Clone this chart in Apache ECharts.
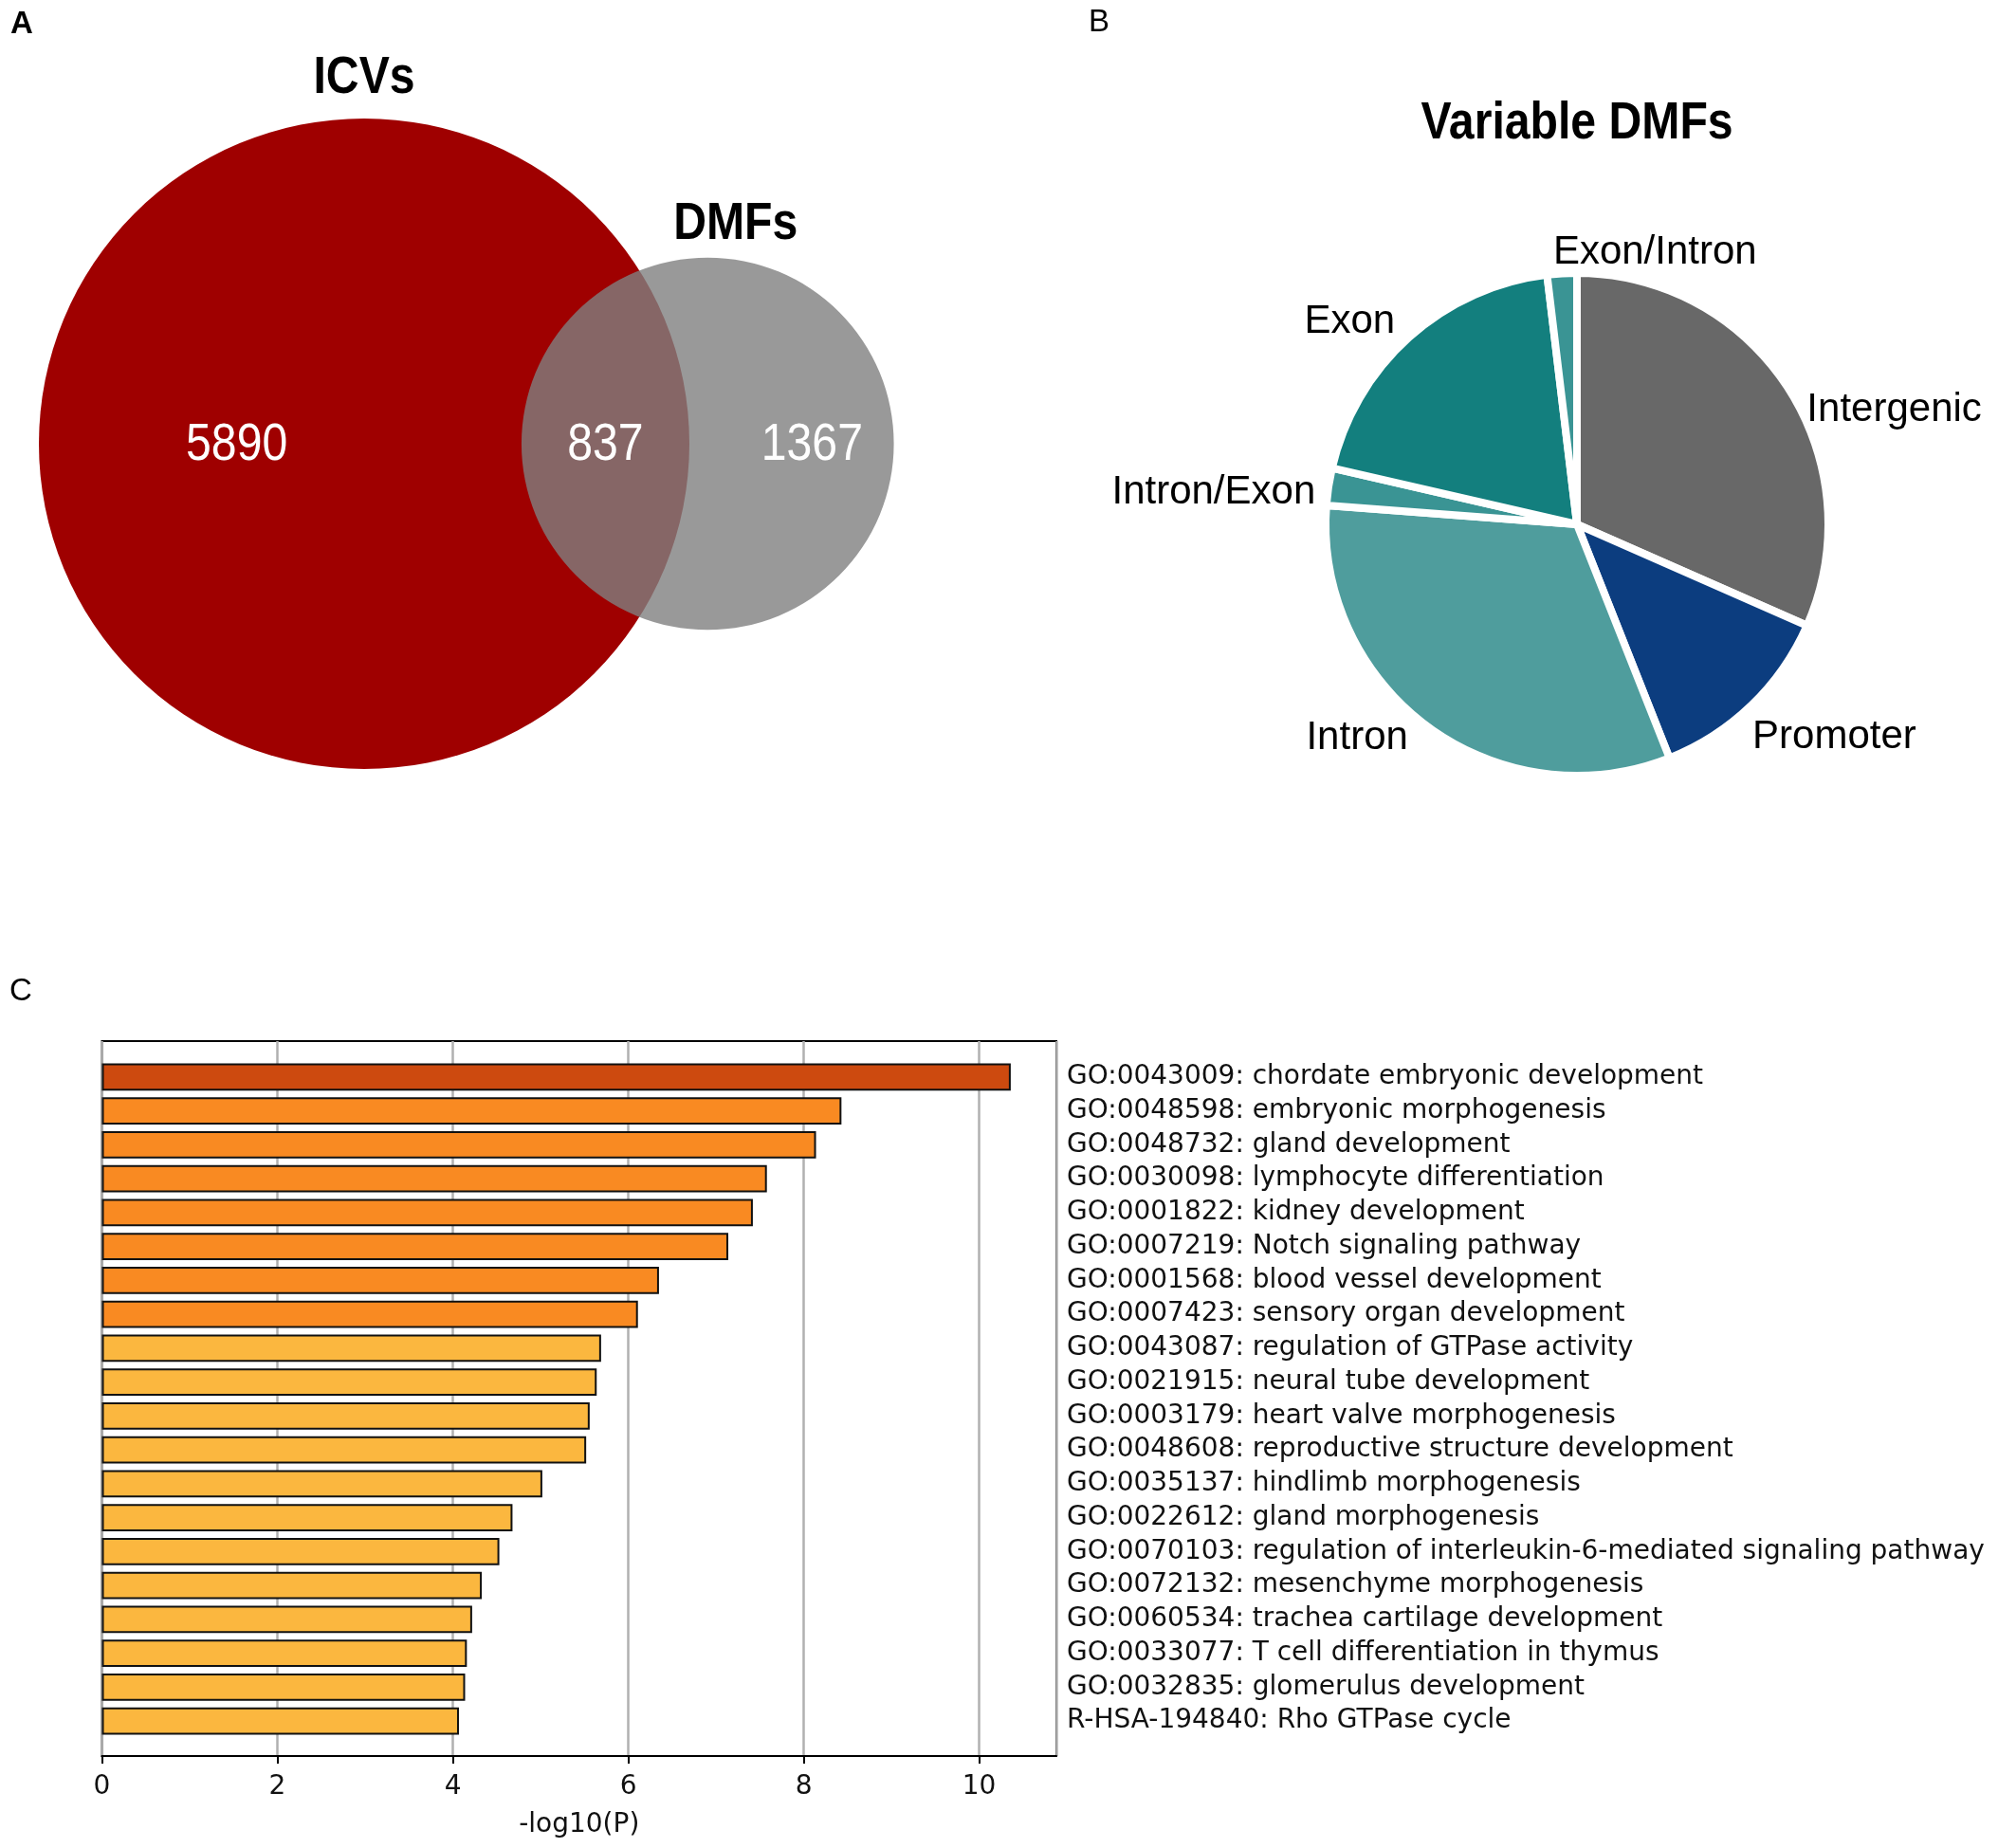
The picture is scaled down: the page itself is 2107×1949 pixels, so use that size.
<!DOCTYPE html>
<html><head><meta charset="utf-8">
<script src="https://cdn.jsdelivr.net/npm/echarts@6/dist/echarts.min.js"></script>
<style>html,body{margin:0;padding:0;background:#fff}#c{width:2107px;height:1949px}</style>
</head><body><div id="c"></div>
<script>
// ---------- Panel A: Venn ----------
const vennSets = ['ICVs', 'DMFs'];
const vennCounts = [5890, 837, 1367]; // ICVs only, shared, DMFs only

// ---------- Panel B: pie ----------
const pieCategories = ['Intergenic', 'Promoter', 'Intron', 'Intron/Exon', 'Exon', 'Exon/Intron'];
const pieValues = [31.6, 12.4, 32.2, 2.4, 19.5, 1.9];

// ---------- Panel C: enrichment bars ----------
const goTerms = [
  'GO:0043009: chordate embryonic development',
  'GO:0048598: embryonic morphogenesis',
  'GO:0048732: gland development',
  'GO:0030098: lymphocyte differentiation',
  'GO:0001822: kidney development',
  'GO:0007219: Notch signaling pathway',
  'GO:0001568: blood vessel development',
  'GO:0007423: sensory organ development',
  'GO:0043087: regulation of GTPase activity',
  'GO:0021915: neural tube development',
  'GO:0003179: heart valve morphogenesis',
  'GO:0048608: reproductive structure development',
  'GO:0035137: hindlimb morphogenesis',
  'GO:0022612: gland morphogenesis',
  'GO:0070103: regulation of interleukin-6-mediated signaling pathway',
  'GO:0072132: mesenchyme morphogenesis',
  'GO:0060534: trachea cartilage development',
  'GO:0033077: T cell differentiation in thymus',
  'GO:0032835: glomerulus development',
  'R-HSA-194840: Rho GTPase cycle'
];
const goValues = [10.36, 8.43, 8.14, 7.58, 7.42, 7.14, 6.35, 6.11, 5.69, 5.64,
                  5.56, 5.52, 5.02, 4.68, 4.53, 4.33, 4.22, 4.16, 4.14, 4.07];
const xTicks = [0, 2, 4, 6, 8, 10];

// ---------- Venn geometry (area proportional) ----------
const areaA = vennCounts[0] + vennCounts[1];
const areaB = vennCounts[1] + vennCounts[2];
const rA = Math.sqrt(areaA / Math.PI), rB = Math.sqrt(areaB / Math.PI);
function lensArea(d, r1, r2) {
  if (d >= r1 + r2) return 0;
  if (d <= Math.abs(r1 - r2)) return Math.PI * Math.min(r1, r2) ** 2;
  const a = r1 * r1 * Math.acos((d * d + r1 * r1 - r2 * r2) / (2 * d * r1));
  const b = r2 * r2 * Math.acos((d * d + r2 * r2 - r1 * r1) / (2 * d * r2));
  const c = 0.5 * Math.sqrt((-d + r1 + r2) * (d + r1 - r2) * (d - r1 + r2) * (d + r1 + r2));
  return a + b - c;
}
let lo = Math.abs(rA - rB), hi = rA + rB;
for (let i = 0; i < 100; i++) {
  const m = (lo + hi) / 2;
  if (lensArea(m, rA, rB) > vennCounts[1]) lo = m; else hi = m;
}
const dAB = (lo + hi) / 2;
const circleData = [[0, 0, rA], [dAB, 0, rB]];
const aLeft = -rA, aRight = rA, bLeft = dAB - rB, bRight = dAB + rB;
const countLabelData = [
  [aLeft + 0.41 * (bLeft - aLeft), 0],
  [(bLeft + aRight) / 2, 0],
  [aRight + 0.6 * (bRight - aRight), 0]
];

// Venn frame: pixels per data unit, placement
const pxPerUnit = 343 / rA;
const vennGrid = {left: 0, top: 0, width: 1060, height: 900};
const vennCx = 384, vennCy = 468;

const SANS = "'Liberation Sans', Arial, sans-serif";
const DEJAVU = "'DejaVu Sans', sans-serif";
const NARROW_SCALE = 0.86;

const vennColors = ['#9f0000', 'rgba(128,128,128,0.8)'];
const pieColors = ['#686868', '#0c3d7f', '#4f9d9d', '#3a9494', '#137f7e', '#3a9494'];

function barColor(v) {
  if (v >= 10) return '#cd4a0f';
  if (v >= 6) return '#f98a22';
  return '#fbb73f';
}

const chart = echarts.init(document.getElementById('c'), null, {renderer: 'canvas'});
chart.setOption({
  animation: false,
  backgroundColor: '#fff',
  graphic: [
    {type: 'text', left: 11, top: 9, style: {text: 'A', fontSize: 33, fontFamily: SANS, fontWeight: 'bold', fill: '#000'}},
    {type: 'text', left: 1148, top: 7, style: {text: 'B', fontSize: 33, fontFamily: SANS, fill: '#000'}},
    {type: 'text', left: 10, top: 1029, style: {text: 'C', fontSize: 33, fontFamily: SANS, fill: '#000'}},
    {type: 'text', x: 1663, y: 131, scaleX: NARROW_SCALE, style: {text: 'Variable DMFs', fontSize: 56, fontFamily: SANS, fontWeight: 'bold', fill: '#000', align: 'center', verticalAlign: 'middle'}}
  ],
  grid: [
    {left: 107.5, width: 1006.5, top: 1098, height: 754, show: true, borderColor: '#000', borderWidth: 2, backgroundColor: 'transparent', containLabel: false},
    {left: 107.5, width: 1006.5, top: 1118, height: 715, containLabel: false},
    {left: vennGrid.left, top: vennGrid.top, width: vennGrid.width, height: vennGrid.height, containLabel: false}
  ],
  xAxis: [
    {
      gridIndex: 0, type: 'value', min: xTicks[0], max: 10.88, interval: 2,
      name: '-log10(P)', nameLocation: 'middle', nameGap: 59,
      nameTextStyle: {fontSize: 28, fontFamily: DEJAVU, color: '#111'},
      axisLine: {show: true, lineStyle: {color: '#000', width: 2}},
      axisTick: {show: true, inside: false, length: 8, lineStyle: {color: '#000', width: 2}},
      axisLabel: {
        fontSize: 28, fontFamily: DEJAVU, color: '#111', margin: 19,
        showMaxLabel: false,
        formatter: v => (xTicks.indexOf(v) >= 0 ? String(v) : '')
      },
      splitLine: {show: true, lineStyle: {color: '#b0b0b0', width: 2.5}}
    },
    {gridIndex: 1, type: 'value', min: xTicks[0], max: 10.88, show: false},
    {
      gridIndex: 2, type: 'value', show: false,
      min: (vennGrid.left - vennCx) / pxPerUnit,
      max: (vennGrid.left + vennGrid.width - vennCx) / pxPerUnit
    }
  ],
  yAxis: [
    {gridIndex: 0, type: 'value', show: false, min: 0, max: 1},
    {
      gridIndex: 1, type: 'category', inverse: true, data: goTerms, position: 'right',
      axisLine: {show: false}, axisTick: {show: false}, splitLine: {show: false},
      axisLabel: {interval: 0, margin: 11, fontSize: 28, fontFamily: DEJAVU, color: '#111'}
    },
    {
      gridIndex: 2, type: 'value', show: false,
      min: -(vennGrid.top + vennGrid.height - vennCy) / pxPerUnit,
      max: (vennCy - vennGrid.top) / pxPerUnit
    }
  ],
  series: [
    {
      type: 'bar', xAxisIndex: 1, yAxisIndex: 1, data: goValues, barWidth: '80%',
      itemStyle: {color: p => barColor(p.value), borderColor: '#111', borderWidth: 2},
      z: 5
    },
    {
      type: 'custom', xAxisIndex: 2, yAxisIndex: 2, data: circleData,
      renderItem: (params, api) => {
        const c = api.coord([api.value(0), api.value(1)]);
        const r = api.size([api.value(2), api.value(2)])[0];
        const i = params.dataIndex;
        return {
          type: 'group', children: [
            {type: 'circle', shape: {cx: c[0], cy: c[1], r: r}, style: {fill: vennColors[i]}},
            {type: 'text', x: c[0] + (i === 0 ? 0 : 0.15 * r), y: c[1] - r - (i === 0 ? 42 : 35), scaleX: NARROW_SCALE,
             style: {text: vennSets[i], fontSize: 56, fontFamily: SANS, fontWeight: 'bold', fill: '#000', align: 'center', verticalAlign: 'middle'}}
          ]
        };
      }
    },
    {
      type: 'custom', xAxisIndex: 2, yAxisIndex: 2, data: countLabelData, z: 10,
      renderItem: (params, api) => {
        const c = api.coord([api.value(0), api.value(1)]);
        return {type: 'text', x: c[0], y: c[1] + 2, scaleX: NARROW_SCALE,
          style: {text: String(vennCounts[params.dataIndex]), fontSize: 56, fontFamily: SANS, fill: '#fff', align: 'center', verticalAlign: 'middle'}};
      }
    },
    {
      type: 'pie', center: [1663, 553], radius: 265, startAngle: 90, clockwise: true,
      avoidLabelOverlap: false,
      data: pieCategories.map((n, i) => ({name: n, value: pieValues[i], itemStyle: {color: pieColors[i]}})),
      itemStyle: {borderColor: '#fff', borderWidth: 8},
      label: {show: true, position: 'outside', fontSize: 42, fontFamily: SANS, color: '#000', distanceToLabelLine: 0, formatter: '{b}'},
      labelLine: {show: false, length: 22, length2: 0},
      labelLayout: p => {
        if (p.dataIndex === 5) return {align: 'left', dx: -8};
        if (p.dataIndex === 0) return {dx: 2, dy: 36};
        if (p.dataIndex === 1) return {dx: -14, dy: 18};
        if (p.dataIndex === 2) return {dx: -8, dy: -6};
        if (p.dataIndex === 3) return {dx: 8, dy: 10};
        return {};
      },
      emphasis: {disabled: true}
    }
  ]
});
</script>
</body></html>
